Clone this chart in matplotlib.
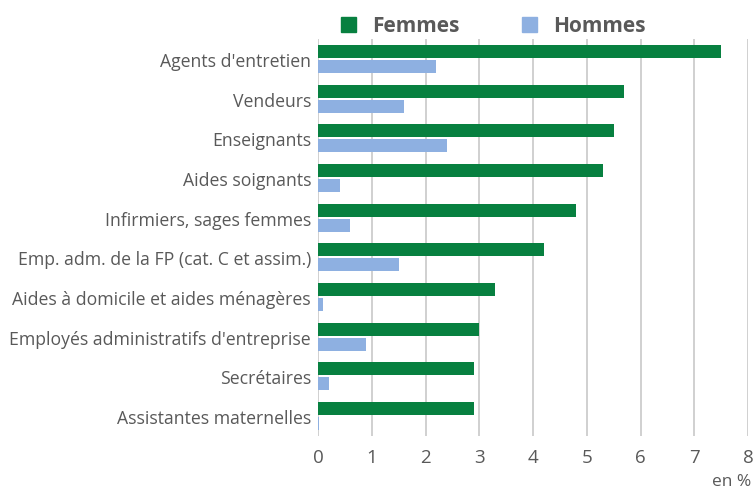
import matplotlib
matplotlib.use("Agg")
import matplotlib.pyplot as plt
import numpy as np
from matplotlib.patches import Rectangle

categories = [
    "Agents d'entretien",
    "Vendeurs",
    "Enseignants",
    "Aides soignants",
    "Infirmiers, sages femmes",
    "Emp. adm. de la FP (cat. C et assim.)",
    "Aides à domicile et aides ménagères",
    "Employés administratifs d'entreprise",
    "Secrétaires",
    "Assistantes maternelles",
]
femmes = [7.5, 5.7, 5.5, 5.3, 4.8, 4.2, 3.3, 3.0, 2.9, 2.9]
hommes = [2.2, 1.6, 2.4, 0.4, 0.6, 1.5, 0.1, 0.9, 0.2, 0.02]
xticks = [0, 1, 2, 3, 4, 5, 6, 7, 8]

green = "#078040"
blue = "#8eb0e1"
txt = "#595959"

plt.rcParams['font.family'] = ['Open Sans', 'DejaVu Sans']

fig = plt.figure(figsize=(7.53, 4.89), dpi=100)
ax = fig.add_axes([318/753, 1-437/489, (748-318)/753, (437-40)/489])

n = len(categories)
y = np.arange(n)
h = 13/39.7
gap = 2/39.7
ax.barh(y - (h+gap)/2, femmes, height=h, color=green, zorder=3)
ax.barh(y + (h+gap)/2, hommes, height=h, color=blue, zorder=3)

ax.set_ylim(n - 0.5, -0.5)
ax.set_xlim(0, 8)
ax.set_yticks(y)
ax.set_yticklabels(categories, fontsize=12.7, color=txt)
ax.set_xticks(xticks)
ax.set_xticklabels([str(t) for t in xticks], fontsize=13.5, color=txt)
ax.tick_params(axis='y', length=0, pad=5)
ax.tick_params(axis='x', length=0, pad=9)
ax.grid(axis='x', color='#c8c8c8', linewidth=1.2, zorder=0)
for s in ax.spines.values():
    s.set_visible(False)

# legend
fig.patches.append(Rectangle((341/753, 1-33/489), 15/753, 15/489, transform=fig.transFigure,
                             color=green, figure=fig))
fig.text(372/753, 1-26/489, "Femmes", fontsize=15, fontweight='bold', color=txt, va='center')
fig.patches.append(Rectangle((522/753, 1-33/489), 15/753, 15/489, transform=fig.transFigure,
                             color=blue, figure=fig))
fig.text(553/753, 1-26/489, "Hommes", fontsize=15, fontweight='bold', color=txt, va='center')

fig.text(751/753, 1-482/489, "en %", fontsize=12.5, color=txt, ha='right', va='center')

fig.savefig("out.png", dpi=100)
